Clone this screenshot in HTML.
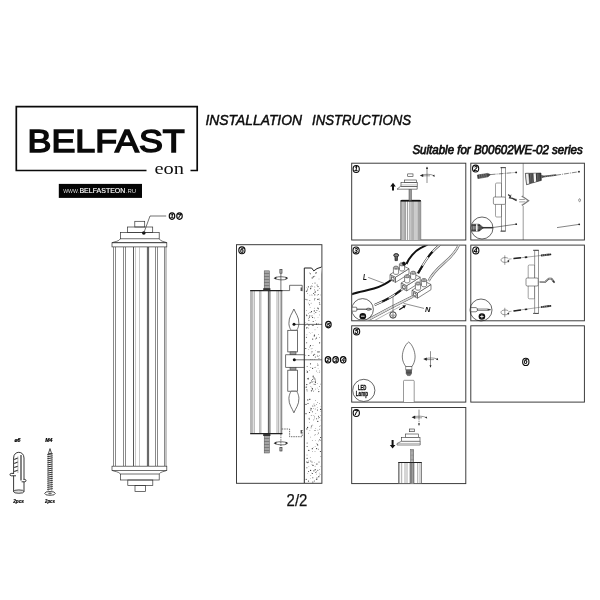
<!DOCTYPE html>
<html>
<head>
<meta charset="utf-8">
<title>Installation Instructions</title>
<style>
html,body{margin:0;padding:0;background:#fff;}
body{width:600px;height:600px;overflow:hidden;font-family:"Liberation Sans",sans-serif;}
svg{display:block;position:absolute;left:0;top:0;filter:grayscale(1) blur(0.35px);}
text{font-family:"Liberation Sans",sans-serif;fill:#111;}
.serif{font-family:"Liberation Serif",serif;}
.ln{fill:none;stroke:#333;stroke-width:0.7;}
.lg{fill:none;stroke:#777;stroke-width:0.6;}
.lk{fill:none;stroke:#111;stroke-width:1;}
.lw{fill:#fff;stroke:#333;stroke-width:0.7;}
.pn{fill:#fff;stroke:#333;stroke-width:0.95;}
.cn{fill:#fff;stroke:#0a0a0a;stroke-width:1.15;}
.cb{fill:#fff;stroke:#0a0a0a;stroke-width:1.1;}
.tb{font-size:6.6px;font-weight:bold;font-style:italic;text-anchor:middle;fill:#000;stroke:#000;stroke-width:0.1px;}
.ct{font-size:6.1px;font-weight:bold;font-style:italic;text-anchor:middle;fill:#000;stroke:#000;stroke-width:0.15px;}
</style>
</head>
<body>
<svg width="600" height="600" viewBox="0 0 600 600">
<rect x="0" y="0" width="600" height="600" fill="#ffffff"/>

<!-- ===== LOGO ===== -->
<g id="logo">
  <path d="M146.5,170.5 H16.3 V106.6 H197.2 V170.5 H190.5" fill="none" stroke="#0a0a0a" stroke-width="1.7"/>
  <text x="27.5" y="152.4" font-size="30.9" textLength="157.2" lengthAdjust="spacingAndGlyphs" style="fill:#0a0a0a;stroke:#0a0a0a;stroke-width:1.45">BELFAST</text>
  <text class="serif" x="154.5" y="173.8" font-size="17.4" textLength="29.6" lengthAdjust="spacingAndGlyphs" fill="#111">eon</text>
  <rect x="58.8" y="183.9" width="83.2" height="14" fill="#050505"/>
  <text x="63.2" y="193.3" font-size="5.6" textLength="15.8" lengthAdjust="spacingAndGlyphs" style="fill:#ddd">WWW.</text>
  <text x="79.4" y="193.3" font-size="7.3" textLength="46" lengthAdjust="spacingAndGlyphs" style="fill:#fff;stroke:#fff;stroke-width:0.15">BELFASTEON</text>
  <text x="125.8" y="193.3" font-size="5.6" textLength="10.4" lengthAdjust="spacingAndGlyphs" style="fill:#ddd">.RU</text>
</g>

<!-- ===== HEADINGS ===== -->
<text x="205.5" y="124.9" font-size="14.9" font-style="italic" stroke="#000" stroke-width="0.45" textLength="96.5" lengthAdjust="spacingAndGlyphs" fill="#000">INSTALLATION</text>
<text x="312" y="124.9" font-size="14.9" font-style="italic" stroke="#000" stroke-width="0.45" textLength="99" lengthAdjust="spacingAndGlyphs" fill="#000">INSTRUCTIONS</text>
<text x="412.4" y="154" font-size="12.2" font-style="italic" stroke="#111" stroke-width="0.75" textLength="170.4" lengthAdjust="spacingAndGlyphs" fill="#111">Suitable for B00602WE-02 series</text>

<!-- ===== PANEL FRAMES ===== -->
<g id="frames">
  <rect class="pn" x="236.5" y="244.7" width="85.4" height="238.6"/>
  <rect class="pn" x="351.7" y="163.2" width="114.1" height="76.8"/>
  <rect class="pn" x="470.8" y="163.2" width="113.6" height="76.8"/>
  <rect class="pn" x="351.7" y="245.1" width="114.1" height="75.7"/>
  <rect class="pn" x="470.8" y="245.1" width="113.6" height="75.7"/>
  <rect class="pn" x="351.7" y="325.8" width="114.1" height="76.3"/>
  <rect class="pn" x="470.8" y="325.8" width="113.6" height="76.3"/>
  <rect class="pn" x="351.7" y="407.5" width="114.1" height="76.1"/>
</g>

<!-- ===== MAIN LAMP ===== -->
<g id="mainlamp">
  <!-- top cap -->
  <rect class="ln" x="134.8" y="221.3" width="9.9" height="5.7"/>
  <rect class="ln" x="127.6" y="227" width="25.1" height="5.4"/>
  <rect class="ln" x="120.4" y="232.4" width="38.8" height="6.4"/>
  <path class="ln" d="M120.4,238.8 C119,241.5 114,241.8 112,242.7 H166.8 C165,241.8 160.5,241.5 159.2,238.8"/>
  <rect class="ln" x="112" y="242.7" width="54.8" height="4.2"/>
  <!-- body -->
  <path d="M113.5,247V466 M115.5,247V466 M123.5,247V466 M125.5,247V466 M155.5,247V466 M157.5,247V466 M164.5,247V466 M166,247V466" fill="none" stroke="#3a3a3a" stroke-width="0.6"/>
  <path d="M135.5,247V466 M139.5,247V466" fill="none" stroke="#999" stroke-width="0.55"/>
  <path d="M133.5,247V466 M147.4,247V466 M148.6,247V466" fill="none" stroke="#222" stroke-width="0.75"/>
  <!-- bottom cap -->
  <rect class="ln" x="112" y="466.2" width="54.8" height="4.2"/>
  <path class="ln" d="M112,470.4 C114,471.5 119,471.5 120.4,474 M166.8,470.4 C165,471.5 160.5,471.5 159.2,474"/>
  <rect class="ln" x="120.4" y="474" width="38.8" height="6"/>
  <rect class="ln" x="127.8" y="480" width="25" height="5.6"/>
  <rect class="ln" x="135" y="485.6" width="10.4" height="5.8"/>
  <!-- leader -->
  <circle cx="143.8" cy="233" r="1.8" fill="#111"/>
  <path class="ln" d="M143.8,233 L150,216 H166.2"/>
  <ellipse class="cn" cx="172" cy="216.1" rx="2.75" ry="3.2"/><text class="ct" x="171.9" y="218.3">1</text>
  <ellipse class="cn" cx="179.5" cy="216.1" rx="2.75" ry="3.2"/><text class="ct" x="179.4" y="218.3">7</text>
</g>

<!-- ===== HARDWARE ===== -->
<g id="hardware">
  <text x="14.4" y="441.8" font-size="5.2" font-weight="bold" font-style="italic" style="fill:#000;stroke:#000;stroke-width:0.2">&#248;6</text>
  <text x="45.2" y="442.2" font-size="5.2" font-weight="bold" font-style="italic" style="fill:#000;stroke:#000;stroke-width:0.2">M4</text>
  <!-- wall plug -->
  <path d="M13.6,492 V458 C13.6,450.4 24,450.4 24,458 V492" fill="none" stroke="#222" stroke-width="0.9"/>
  <path d="M21,455 V480.5" fill="none" stroke="#333" stroke-width="1.2"/>
  <path d="M14.2,459.4 L17.8,458 M14.2,463.4 L17.8,462 M14.2,467.6 L17.8,466.2 M14.2,471.6 L17.8,470.2" fill="none" stroke="#333" stroke-width="1.1"/>
  <path class="lg" d="M17.9,456.5 V473"/>
  <ellipse cx="18.8" cy="491.6" rx="5.2" ry="1.7" fill="#ddd" stroke="#222" stroke-width="0.8"/>
  <path d="M14,473.4 H11.2 C9.6,473.4 9.6,475.8 11.2,475.8 H16 M23.6,479.4 H24.8 C26.4,479.4 26.4,481.8 24.8,481.8 H21.6" fill="#fff" stroke="#222" stroke-width="0.9"/>
  <!-- screw -->
  <path d="M50,448.6 L48.4,453.6 H51.6 Z" fill="#fff" stroke="#222" stroke-width="0.8"/>
  <path d="M47.3,454.6 L52.7,453.7 M47.3,456.7 L52.7,455.8 M47.3,458.7 L52.7,457.8 M47.3,460.8 L52.7,459.9 M47.3,462.8 L52.7,461.9 M47.3,464.9 L52.7,464.0 M47.3,466.9 L52.7,466.0 M47.3,469.0 L52.7,468.1 M47.3,471.0 L52.7,470.1 M47.3,473.1 L52.7,472.2 M47.3,475.1 L52.7,474.2 M47.3,477.2 L52.7,476.3 M47.3,479.2 L52.7,478.3 M47.3,481.2 L52.7,480.4 M47.3,483.3 L52.7,482.4 M47.3,485.4 L52.7,484.5 M47.3,487.4 L52.7,486.5 M47.3,489.5 L52.7,488.6" stroke="#222" stroke-width="0.95" fill="none"/>
  <path d="M48.2,453.5 V491 M51.8,453.5 V491" fill="none" stroke="#555" stroke-width="0.5"/>
  <ellipse cx="50" cy="493.4" rx="5.3" ry="1.9" fill="#fff" stroke="#222" stroke-width="0.8"/>
  <path d="M48.2,493.4 H51.8 M50,492.2 V494.6" stroke="#222" stroke-width="0.6" fill="none"/>
  <text x="13.2" y="502.8" font-size="5.6" font-weight="bold" font-style="italic" textLength="10.8" lengthAdjust="spacingAndGlyphs" style="fill:#000;stroke:#000;stroke-width:0.2">2pcs</text>
  <text x="45" y="503.4" font-size="5.6" font-weight="bold" font-style="italic" textLength="10" lengthAdjust="spacingAndGlyphs" style="fill:#000;stroke:#000;stroke-width:0.2">2pcs</text>
</g>
<!-- ===== PANEL 6 ===== -->
<g id="p6">
  <ellipse class="cb" cx="241.9" cy="250.3" rx="3.1" ry="3.45"/><text class="tb" x="241.8" y="252.7">6</text>
  <!-- wall -->
  <path d="M304.3,483 V268 H311.6 L313.8,270.9 L317,268.6 L321.6,267" fill="#fff" stroke="#222" stroke-width="1"/>
  <g fill="#333"><circle cx="312.5" cy="388.9" r="0.5"/><circle cx="312.5" cy="451.3" r="0.35"/><circle cx="308.4" cy="378.8" r="0.6"/><circle cx="317.7" cy="290.4" r="0.4"/><circle cx="307.8" cy="384.4" r="0.3"/><circle cx="314.7" cy="354.3" r="0.5"/><circle cx="315.6" cy="400.7" r="0.35"/><circle cx="315.1" cy="446.4" r="0.3"/><circle cx="306.5" cy="310.7" r="0.35"/><circle cx="314.8" cy="435.1" r="0.4"/><circle cx="312.3" cy="448.7" r="0.6"/><circle cx="309.2" cy="332.7" r="0.3"/><circle cx="315.7" cy="367.2" r="0.4"/><circle cx="311.8" cy="387.1" r="0.3"/><circle cx="316.4" cy="337.2" r="0.35"/><circle cx="313.4" cy="276.8" r="0.6"/><circle cx="317.3" cy="355.2" r="0.4"/><circle cx="311.5" cy="473.1" r="0.3"/><circle cx="308.9" cy="466.6" r="0.3"/><circle cx="312.8" cy="477.8" r="0.5"/><circle cx="312.0" cy="390.3" r="0.35"/><circle cx="317.5" cy="327.6" r="0.3"/><circle cx="310.4" cy="273.7" r="0.5"/><circle cx="317.2" cy="295.5" r="0.35"/><circle cx="316.4" cy="272.8" r="0.5"/><circle cx="317.8" cy="308.1" r="0.6"/><circle cx="308.5" cy="378.1" r="0.35"/><circle cx="312.0" cy="351.7" r="0.5"/><circle cx="312.0" cy="315.5" r="0.4"/><circle cx="318.8" cy="476.7" r="0.6"/><circle cx="310.3" cy="457.6" r="0.35"/><circle cx="308.5" cy="481.1" r="0.6"/><circle cx="315.4" cy="291.7" r="0.35"/><circle cx="308.9" cy="325.1" r="0.6"/><circle cx="310.6" cy="333.2" r="0.3"/><circle cx="306.7" cy="314.6" r="0.35"/><circle cx="305.8" cy="348.5" r="0.6"/><circle cx="312.5" cy="473.4" r="0.5"/><circle cx="318.3" cy="299.2" r="0.5"/><circle cx="308.4" cy="303.1" r="0.35"/><circle cx="318.1" cy="323.3" r="0.35"/><circle cx="308.0" cy="403.5" r="0.6"/><circle cx="308.6" cy="471.5" r="0.5"/><circle cx="314.8" cy="359.6" r="0.3"/><circle cx="307.3" cy="378.9" r="0.4"/><circle cx="309.2" cy="419.5" r="0.4"/><circle cx="312.0" cy="461.9" r="0.5"/><circle cx="310.1" cy="307.6" r="0.3"/><circle cx="307.5" cy="371.9" r="0.6"/><circle cx="315.0" cy="329.8" r="0.35"/><circle cx="317.1" cy="285.1" r="0.5"/><circle cx="312.4" cy="283.3" r="0.35"/><circle cx="309.9" cy="382.8" r="0.35"/><circle cx="307.0" cy="299.8" r="0.5"/><circle cx="320.6" cy="409.4" r="0.6"/><circle cx="314.5" cy="300.2" r="0.3"/><circle cx="319.7" cy="370.9" r="0.4"/><circle cx="316.3" cy="474.1" r="0.3"/><circle cx="314.8" cy="286.3" r="0.3"/><circle cx="316.8" cy="337.9" r="0.3"/><circle cx="306.8" cy="386.0" r="0.3"/><circle cx="319.4" cy="426.4" r="0.35"/><circle cx="317.7" cy="464.0" r="0.4"/><circle cx="306.9" cy="370.6" r="0.3"/><circle cx="318.9" cy="358.7" r="0.3"/><circle cx="318.8" cy="391.6" r="0.6"/><circle cx="315.7" cy="350.7" r="0.3"/><circle cx="314.9" cy="287.5" r="0.3"/><circle cx="320.8" cy="456.6" r="0.4"/><circle cx="311.5" cy="426.0" r="0.6"/><circle cx="312.6" cy="368.3" r="0.6"/><circle cx="306.9" cy="429.2" r="0.3"/><circle cx="310.3" cy="289.1" r="0.3"/><circle cx="309.1" cy="418.2" r="0.5"/><circle cx="317.5" cy="410.1" r="0.5"/><circle cx="309.5" cy="272.9" r="0.4"/><circle cx="307.8" cy="399.9" r="0.6"/><circle cx="308.2" cy="462.1" r="0.5"/><circle cx="313.2" cy="321.6" r="0.5"/><circle cx="315.8" cy="312.5" r="0.5"/><circle cx="317.9" cy="430.1" r="0.35"/><circle cx="319.1" cy="351.8" r="0.6"/><circle cx="319.7" cy="314.9" r="0.35"/><circle cx="313.2" cy="447.5" r="0.3"/><circle cx="316.5" cy="471.4" r="0.4"/><circle cx="318.2" cy="294.4" r="0.5"/><circle cx="309.8" cy="315.8" r="0.5"/><circle cx="311.5" cy="380.5" r="0.4"/><circle cx="316.6" cy="448.6" r="0.6"/><circle cx="312.5" cy="286.3" r="0.3"/><circle cx="309.9" cy="399.0" r="0.4"/><circle cx="314.3" cy="335.9" r="0.6"/><circle cx="305.9" cy="299.2" r="0.5"/><circle cx="308.5" cy="433.2" r="0.4"/><circle cx="309.2" cy="300.3" r="0.3"/><circle cx="320.7" cy="294.9" r="0.3"/><circle cx="315.2" cy="409.0" r="0.4"/><circle cx="320.3" cy="415.3" r="0.35"/><circle cx="318.2" cy="324.7" r="0.3"/><circle cx="317.2" cy="383.6" r="0.3"/><circle cx="308.3" cy="328.1" r="0.4"/><circle cx="313.9" cy="470.8" r="0.6"/><circle cx="315.0" cy="430.4" r="0.5"/><circle cx="318.6" cy="418.5" r="0.35"/><circle cx="306.9" cy="467.7" r="0.5"/><circle cx="307.6" cy="366.4" r="0.3"/><circle cx="311.4" cy="390.8" r="0.6"/><circle cx="317.8" cy="470.2" r="0.5"/><circle cx="310.6" cy="478.3" r="0.3"/><circle cx="316.6" cy="443.6" r="0.3"/><circle cx="308.9" cy="460.8" r="0.3"/><circle cx="320.6" cy="384.1" r="0.4"/><circle cx="309.6" cy="422.4" r="0.3"/><circle cx="310.9" cy="288.0" r="0.5"/><circle cx="310.8" cy="359.6" r="0.4"/><circle cx="313.1" cy="276.5" r="0.3"/><circle cx="312.2" cy="277.9" r="0.6"/><circle cx="310.7" cy="437.1" r="0.35"/><circle cx="312.8" cy="482.0" r="0.6"/><circle cx="318.5" cy="416.3" r="0.5"/><circle cx="314.5" cy="416.2" r="0.35"/><circle cx="312.3" cy="388.7" r="0.6"/><circle cx="315.4" cy="381.1" r="0.6"/><circle cx="309.5" cy="412.5" r="0.6"/><circle cx="308.8" cy="450.4" r="0.6"/><circle cx="313.6" cy="391.7" r="0.35"/><circle cx="311.9" cy="294.7" r="0.3"/><circle cx="314.9" cy="276.4" r="0.3"/><circle cx="313.5" cy="355.2" r="0.6"/><circle cx="307.5" cy="290.2" r="0.35"/><circle cx="306.6" cy="384.4" r="0.5"/><circle cx="319.7" cy="439.8" r="0.5"/><circle cx="309.7" cy="370.6" r="0.35"/><circle cx="310.8" cy="461.0" r="0.5"/><circle cx="313.6" cy="293.5" r="0.5"/><circle cx="315.1" cy="466.2" r="0.35"/><circle cx="316.3" cy="477.2" r="0.3"/><circle cx="308.6" cy="318.6" r="0.4"/><circle cx="310.5" cy="345.7" r="0.6"/><circle cx="313.2" cy="376.2" r="0.6"/><circle cx="307.5" cy="378.5" r="0.4"/><circle cx="316.6" cy="418.8" r="0.5"/><circle cx="306.0" cy="404.4" r="0.6"/><circle cx="315.0" cy="384.3" r="0.6"/><circle cx="315.4" cy="382.5" r="0.6"/><circle cx="315.0" cy="451.7" r="0.35"/><circle cx="319.6" cy="403.3" r="0.4"/><circle cx="319.4" cy="337.3" r="0.4"/><circle cx="319.2" cy="311.7" r="0.35"/><circle cx="319.2" cy="298.8" r="0.35"/><circle cx="307.6" cy="289.1" r="0.5"/><circle cx="307.1" cy="446.5" r="0.5"/><circle cx="313.9" cy="419.6" r="0.35"/><circle cx="311.8" cy="415.4" r="0.3"/><circle cx="307.1" cy="391.0" r="0.4"/><circle cx="319.5" cy="475.3" r="0.3"/><circle cx="316.4" cy="404.7" r="0.4"/><circle cx="313.3" cy="415.5" r="0.35"/><circle cx="317.9" cy="372.5" r="0.3"/><circle cx="306.2" cy="387.2" r="0.6"/><circle cx="319.4" cy="372.3" r="0.35"/><circle cx="308.4" cy="313.6" r="0.35"/><circle cx="320.8" cy="466.5" r="0.3"/><circle cx="314.5" cy="298.9" r="0.5"/><circle cx="306.8" cy="291.0" r="0.5"/><circle cx="312.7" cy="379.5" r="0.5"/><circle cx="308.8" cy="349.4" r="0.3"/><circle cx="318.5" cy="308.8" r="0.5"/><circle cx="311.1" cy="348.8" r="0.35"/><circle cx="314.9" cy="290.6" r="0.3"/><circle cx="310.6" cy="288.4" r="0.5"/><circle cx="314.3" cy="310.9" r="0.6"/><circle cx="320.6" cy="440.7" r="0.4"/><circle cx="309.9" cy="295.1" r="0.35"/><circle cx="318.1" cy="356.3" r="0.4"/><circle cx="319.1" cy="417.4" r="0.5"/><circle cx="317.3" cy="356.3" r="0.35"/><circle cx="306.7" cy="342.8" r="0.5"/><circle cx="307.1" cy="458.3" r="0.6"/><circle cx="306.4" cy="328.2" r="0.4"/><circle cx="310.8" cy="410.0" r="0.6"/><circle cx="308.4" cy="286.8" r="0.6"/><circle cx="320.9" cy="406.3" r="0.3"/><circle cx="317.3" cy="477.8" r="0.3"/><circle cx="307.4" cy="293.4" r="0.35"/><circle cx="309.5" cy="355.4" r="0.3"/><circle cx="317.2" cy="407.6" r="0.3"/><circle cx="307.1" cy="323.6" r="0.4"/><circle cx="314.0" cy="377.9" r="0.6"/><circle cx="314.3" cy="481.0" r="0.5"/><circle cx="318.0" cy="286.6" r="0.6"/><circle cx="315.8" cy="472.6" r="0.5"/><circle cx="319.8" cy="304.3" r="0.5"/><circle cx="320.4" cy="451.5" r="0.6"/><circle cx="315.0" cy="282.9" r="0.5"/><circle cx="312.0" cy="381.9" r="0.6"/><circle cx="310.4" cy="382.7" r="0.5"/><circle cx="315.6" cy="389.1" r="0.4"/><circle cx="315.8" cy="428.6" r="0.3"/><circle cx="305.8" cy="322.3" r="0.3"/><circle cx="315.3" cy="357.0" r="0.5"/><circle cx="306.4" cy="337.2" r="0.5"/><circle cx="306.4" cy="479.6" r="0.4"/><circle cx="306.7" cy="462.0" r="0.5"/><circle cx="316.6" cy="323.6" r="0.35"/><circle cx="306.3" cy="291.3" r="0.5"/><circle cx="307.8" cy="473.5" r="0.35"/><circle cx="314.8" cy="294.8" r="0.6"/><circle cx="312.0" cy="295.4" r="0.3"/><circle cx="311.1" cy="303.2" r="0.4"/><circle cx="312.4" cy="411.8" r="0.5"/><circle cx="314.8" cy="405.8" r="0.5"/><circle cx="311.2" cy="427.8" r="0.35"/><circle cx="320.2" cy="425.8" r="0.35"/><circle cx="313.0" cy="376.9" r="0.4"/><circle cx="317.6" cy="402.7" r="0.4"/><circle cx="309.8" cy="399.5" r="0.6"/><circle cx="316.3" cy="310.7" r="0.4"/><circle cx="317.1" cy="310.6" r="0.35"/><circle cx="313.3" cy="408.6" r="0.35"/><circle cx="319.0" cy="278.9" r="0.3"/><circle cx="305.7" cy="325.4" r="0.3"/><circle cx="315.1" cy="292.2" r="0.6"/><circle cx="309.9" cy="430.3" r="0.35"/><circle cx="314.0" cy="404.0" r="0.4"/><circle cx="313.0" cy="345.4" r="0.4"/><circle cx="310.9" cy="428.0" r="0.3"/><circle cx="317.9" cy="365.1" r="0.6"/><circle cx="318.4" cy="433.1" r="0.5"/><circle cx="312.1" cy="325.1" r="0.35"/><circle cx="311.2" cy="408.7" r="0.6"/><circle cx="310.6" cy="386.5" r="0.35"/><circle cx="312.1" cy="348.6" r="0.3"/><circle cx="312.7" cy="339.1" r="0.6"/><circle cx="306.9" cy="389.8" r="0.5"/><circle cx="318.1" cy="368.5" r="0.3"/><circle cx="306.8" cy="315.6" r="0.6"/><circle cx="306.9" cy="334.8" r="0.4"/><circle cx="309.9" cy="300.7" r="0.4"/><circle cx="315.7" cy="339.7" r="0.3"/><circle cx="310.5" cy="363.8" r="0.6"/><circle cx="319.7" cy="469.3" r="0.4"/><circle cx="312.3" cy="440.3" r="0.4"/><circle cx="312.6" cy="317.3" r="0.6"/><circle cx="309.4" cy="347.0" r="0.4"/><circle cx="306.0" cy="413.7" r="0.6"/><circle cx="311.5" cy="311.7" r="0.6"/><circle cx="311.2" cy="353.0" r="0.35"/><circle cx="318.4" cy="389.5" r="0.35"/><circle cx="307.0" cy="366.6" r="0.4"/><circle cx="318.0" cy="317.3" r="0.3"/><circle cx="313.9" cy="390.5" r="0.3"/><circle cx="315.6" cy="440.6" r="0.3"/><circle cx="314.5" cy="335.1" r="0.6"/><circle cx="306.9" cy="287.8" r="0.3"/><circle cx="319.4" cy="288.4" r="0.35"/><circle cx="307.1" cy="443.1" r="0.5"/><circle cx="309.4" cy="317.1" r="0.6"/><circle cx="310.8" cy="367.6" r="0.4"/><circle cx="310.8" cy="475.3" r="0.35"/><circle cx="313.2" cy="384.1" r="0.3"/><circle cx="316.4" cy="464.0" r="0.5"/><circle cx="317.2" cy="479.0" r="0.4"/><circle cx="318.7" cy="440.9" r="0.3"/><circle cx="319.2" cy="473.1" r="0.3"/><circle cx="313.6" cy="420.7" r="0.3"/><circle cx="312.1" cy="359.4" r="0.35"/><circle cx="309.4" cy="304.8" r="0.5"/><circle cx="316.1" cy="338.4" r="0.5"/><circle cx="312.1" cy="332.3" r="0.3"/><circle cx="312.8" cy="425.1" r="0.4"/><circle cx="315.5" cy="434.6" r="0.35"/><circle cx="319.6" cy="429.8" r="0.3"/><circle cx="314.5" cy="462.8" r="0.3"/><circle cx="310.4" cy="312.3" r="0.4"/><circle cx="308.9" cy="320.3" r="0.5"/><circle cx="314.7" cy="317.9" r="0.35"/><circle cx="319.3" cy="355.6" r="0.4"/><circle cx="315.2" cy="469.7" r="0.6"/><circle cx="312.9" cy="325.6" r="0.5"/><circle cx="319.6" cy="342.8" r="0.6"/><circle cx="317.4" cy="290.0" r="0.35"/><circle cx="311.7" cy="316.5" r="0.35"/><circle cx="317.9" cy="351.9" r="0.6"/><circle cx="317.8" cy="434.2" r="0.3"/><circle cx="315.7" cy="320.8" r="0.3"/><circle cx="319.0" cy="462.0" r="0.5"/><circle cx="317.8" cy="421.4" r="0.6"/><circle cx="319.0" cy="358.4" r="0.4"/><circle cx="307.8" cy="462.6" r="0.6"/><circle cx="307.6" cy="427.4" r="0.6"/><circle cx="309.7" cy="383.6" r="0.35"/><circle cx="314.3" cy="308.2" r="0.35"/><circle cx="318.2" cy="449.5" r="0.35"/><circle cx="306.9" cy="327.6" r="0.6"/><circle cx="307.1" cy="372.0" r="0.5"/><circle cx="306.9" cy="428.8" r="0.6"/><circle cx="318.7" cy="334.7" r="0.35"/><circle cx="312.0" cy="464.4" r="0.3"/><circle cx="317.6" cy="363.6" r="0.3"/><circle cx="313.9" cy="381.7" r="0.35"/><circle cx="320.1" cy="474.4" r="0.4"/><circle cx="310.4" cy="286.6" r="0.4"/><circle cx="320.9" cy="411.6" r="0.3"/><circle cx="311.1" cy="415.8" r="0.3"/><circle cx="315.8" cy="413.4" r="0.3"/><circle cx="315.6" cy="273.1" r="0.5"/><circle cx="316.5" cy="371.0" r="0.4"/><circle cx="314.2" cy="367.4" r="0.3"/><circle cx="318.7" cy="449.1" r="0.35"/><circle cx="319.4" cy="302.7" r="0.5"/><circle cx="319.9" cy="429.1" r="0.4"/><circle cx="317.2" cy="388.0" r="0.3"/><circle cx="309.5" cy="312.8" r="0.3"/><circle cx="310.6" cy="470.4" r="0.6"/><circle cx="312.8" cy="405.9" r="0.5"/><circle cx="318.3" cy="290.0" r="0.35"/><circle cx="315.1" cy="298.3" r="0.35"/><circle cx="308.4" cy="355.6" r="0.5"/><circle cx="314.7" cy="289.6" r="0.35"/><circle cx="306.1" cy="479.3" r="0.5"/><circle cx="311.8" cy="285.9" r="0.5"/><circle cx="319.8" cy="299.9" r="0.35"/><circle cx="317.3" cy="444.2" r="0.5"/><circle cx="313.0" cy="465.4" r="0.6"/><circle cx="305.8" cy="355.2" r="0.4"/><circle cx="320.6" cy="437.5" r="0.6"/><circle cx="313.7" cy="325.6" r="0.35"/><circle cx="310.8" cy="408.1" r="0.3"/><circle cx="314.1" cy="313.8" r="0.4"/><circle cx="317.7" cy="445.0" r="0.6"/><circle cx="316.5" cy="324.2" r="0.6"/><circle cx="319.4" cy="386.5" r="0.4"/><circle cx="315.0" cy="379.1" r="0.6"/><circle cx="316.5" cy="479.2" r="0.6"/><circle cx="320.9" cy="420.0" r="0.35"/><circle cx="314.3" cy="276.1" r="0.35"/><circle cx="317.5" cy="299.3" r="0.5"/><circle cx="314.4" cy="417.9" r="0.4"/><circle cx="307.0" cy="455.0" r="0.4"/></g>
  <!-- backplate -->
  
  <!-- body -->
  <rect x="251" y="290.6" width="30.8" height="142.8" fill="#fff" stroke="#333" stroke-width="0.7"/>
  <path class="lg" d="M252.7,291V433 M254.3,291V433 M259.7,291V433 M260.9,291V433 M277,291V433 M278.6,291V433 M280.3,291V433"/>
  <path d="M268.4,291V433 M269.9,291V433" fill="none" stroke="#222" stroke-width="0.8"/>
  <path d="M250.2,290.6 H282.4 M250.2,433.6 H282.4" fill="none" stroke="#222" stroke-width="1.15"/>
  <!-- threaded rods -->
  <rect x="264.2" y="270.8" width="5.2" height="19.2" fill="#ccc" stroke="#555" stroke-width="0.5"/>
  <path d="M264.2,272.0H269.4 M264.2,273.5H269.4 M264.2,275.0H269.4 M264.2,276.5H269.4 M264.2,278.0H269.4 M264.2,279.5H269.4 M264.2,281.0H269.4 M264.2,282.5H269.4 M264.2,284.0H269.4 M264.2,285.5H269.4 M264.2,287.0H269.4 M264.2,288.5H269.4" stroke="#444" stroke-width="0.6" fill="none"/>
  <rect x="264.2" y="434.4" width="5.2" height="18.6" fill="#ccc" stroke="#555" stroke-width="0.5"/>
  <path d="M264.2,435.5H269.4 M264.2,437.0H269.4 M264.2,438.5H269.4 M264.2,440.0H269.4 M264.2,441.5H269.4 M264.2,443.0H269.4 M264.2,444.5H269.4 M264.2,446.0H269.4 M264.2,447.5H269.4 M264.2,449.0H269.4 M264.2,450.5H269.4 M264.2,452.0H269.4" stroke="#444" stroke-width="0.6" fill="none"/>
  <rect x="263.2" y="288.2" width="7.2" height="2" fill="#333"/>
  <rect x="263.2" y="434" width="7.2" height="2" fill="#333"/>
  <!-- rotation symbols -->
  <rect x="279.9" y="269.6" width="2.1" height="3.6" fill="#bbb" stroke="#222" stroke-width="0.6"/>
  <path class="ln" d="M280.9,273.4 V290"/>
  <path class="ln" d="M276,277.4 C278,276.4 284.5,276.4 287.6,278 M275.2,278.6 C278,280.2 284,280.2 286.6,279.2" stroke-width="0.6"/>
  <path d="M273.6,278.2 L276.4,276.6 L276.2,279.4 Z M288,278.2 L285.8,276.8 L285.6,279.2Z" fill="#222"/>
  <rect x="279.9" y="447.4" width="2.1" height="3.6" fill="#bbb" stroke="#222" stroke-width="0.6"/>
  <path class="ln" d="M280.9,434 V447" stroke-dasharray="1.6 1"/>
  <path class="ln" d="M276,442.4 C278,441.4 284.5,441.4 287.6,443 M275.2,443.6 C278,445.2 284,445.2 286.6,444.2" stroke-width="0.6"/>
  <path d="M273.6,443.2 L276.4,441.6 L276.2,444.4 Z M288,443.2 L285.8,441.8 L285.6,444.2Z" fill="#222"/>
  <!-- brackets -->
  <path class="ln" d="M281.8,290.6 H289.6 V285.3 H302.2 V291.2"/>
  <path d="M300.6,287.6 H302 V291 H300.6Z" fill="#555"/>
  <path class="ln" d="M281.8,429 H289.6 V436.7 H302.2 V430" stroke-dasharray="1.5 0.9"/>
  <path d="M300.6,430 H302 V433.4 H300.6Z" fill="#555"/>
  <!-- upper bulb -->
  <path class="lw" d="M293.9,309 C292.5,313 288.6,317 288.9,323.5 C289.1,327.5 291,330.3 291.4,330.3 H296.4 C296.8,330.3 298.7,327.5 298.9,323.5 C299.2,317 295.3,313 293.9,309 Z"/>
  <rect class="lw" x="287.8" y="330.3" width="9.8" height="21.6"/>
  <rect x="290" y="351.9" width="6" height="2.9" fill="#999" stroke="#333" stroke-width="0.5"/>
  <!-- center block -->
  <rect class="lw" x="285.7" y="354.8" width="18.4" height="12.5"/>
  <!-- lower bulb -->
  <rect x="290" y="367.3" width="6" height="2.9" fill="#999" stroke="#333" stroke-width="0.5"/>
  <rect class="lw" x="287.8" y="370.2" width="9.8" height="21"/>
  <path class="lw" d="M293.9,412.8 C292.5,408.8 288.6,404.8 288.9,398.3 C289.1,394.3 291,391.2 291.4,391.2 H296.4 C296.8,391.2 298.7,394.3 298.9,398.3 C299.2,404.8 295.3,408.8 293.9,412.8 Z"/>
  <!-- leaders -->
  <path class="ln" d="M294,324.4 H322 M294.3,359.8 H322"/>
  <circle cx="294" cy="324.3" r="1.5" fill="#111"/>
  <circle cx="294.3" cy="359.8" r="1.5" fill="#111"/>
  <ellipse class="cn" cx="328.4" cy="324.6" rx="2.75" ry="3.2"/><text class="ct" x="328.4" y="326.8">5</text>
  <ellipse class="cn" cx="328" cy="359.8" rx="2.75" ry="3.2"/><text class="ct" x="328" y="362">2</text>
  <ellipse class="cn" cx="335.6" cy="359.8" rx="2.75" ry="3.2"/><text class="ct" x="335.6" y="362">3</text>
  <ellipse class="cn" cx="343.2" cy="359.8" rx="2.75" ry="3.2"/><text class="ct" x="343.2" y="362">4</text>
</g>
<!-- ===== PANEL 1 ===== -->
<g id="p1">
  <ellipse class="cb" cx="356.2" cy="168.9" rx="3.1" ry="3.45"/><text class="tb" x="356.1" y="171.3">1</text>
  <!-- body -->
  <path d="M400.7,240 V201.4 C400.7,200.6 401.2,200.2 402,200.2 H419.4 C420.2,200.2 420.7,200.6 420.7,201.4 V240" fill="#fff" stroke="#333" stroke-width="0.6"/>
  <path d="M401.7,201V240 M403,201V240 M404.3,201V240 M405.6,201V240 M407.6,201V240 M409.8,201V240 M411.2,201V240 M415,201V240 M417,201V240 M418.4,201V240 M419.6,201V240" stroke="#444" stroke-width="0.55" fill="none"/>
  <path d="M413,201V240" stroke="#222" stroke-width="0.7" fill="none"/>
  <path d="M400.6,200.8 H420.8" stroke="#111" stroke-width="1.6" fill="none"/>
  <!-- rod -->
  <rect x="409" y="189.4" width="2.4" height="11" fill="#999" stroke="#444" stroke-width="0.5"/>
  <!-- cap -->
  <path d="M397,189.2 L400.6,186.3 H417.2 V189.2 Z" fill="#fff" stroke="#333" stroke-width="0.6"/>
  <rect x="401" y="182.3" width="16.2" height="4" fill="#fff" stroke="#333" stroke-width="0.6"/>
  <path d="M401,184.9 H417.2" stroke="#888" stroke-width="0.5" fill="none"/>
  <rect x="404.3" y="180" width="12" height="2.3" fill="#fff" stroke="#333" stroke-width="0.6"/>
  <!-- nut -->
  <rect x="407.7" y="173.9" width="5.3" height="2.4" fill="#fff" stroke="#333" stroke-width="0.6"/>
  <!-- arrow up -->
  <path d="M393,182.8 L395.8,186.4 H394 V190.4 H392 V186.4 H390.2 Z" fill="#111"/>
  <path d="M427,167.0 V183.0" fill="none" stroke="#444" stroke-width="0.6"/>
  <path d="M422,175.20000000000002 C425,173.9 431,173.9 434.2,175.8 M422,175.8 H430" fill="none" stroke="#444" stroke-width="0.55"/>
  <path d="M419.8,175.5 L423.2,173.9 L423.2,177.1Z M434.8,176.8 L432.6,176.0 L434.2,174.6Z" fill="#222"/>
  <path d="M427,166.4 L426,169 H428Z" fill="#222"/>
</g>

<!-- ===== PANEL 2 ===== -->
<g id="p2">
  <ellipse class="cb" cx="475.6" cy="168.6" rx="3.1" ry="3.45"/><text class="tb" x="475.5" y="171.0">2</text>
  <path d="M523.2,163.4 V196 M523.2,206 V240" stroke="#333" stroke-width="0.5" fill="none"/>
  <!-- plate + sockets -->
  <rect x="495.5" y="183" width="6.2" height="34" rx="1.2" fill="#fff" stroke="#555" stroke-width="0.55"/>
  
  <rect x="501.7" y="167.6" width="3.8" height="63.4" fill="#fff" stroke="#444" stroke-width="0.55"/>
  <path d="M500.4,167.7 H505.7 M500.4,231.2 H505.7" stroke="#333" stroke-width="0.8" fill="none"/>
  <rect x="493.4" y="197" width="12.1" height="7.4" rx="1.2" fill="#fff" stroke="#444" stroke-width="0.6"/>
  <!-- top-left wall plug -->
  <path d="M477.4,175 L487.6,173.4 L490.6,174.6 L488,176.8 L477.9,178.6 Z" fill="#444" stroke="#222" stroke-width="0.5"/>
  <path d="M479.5,174.8 L480,178.2 M481.6,174.4 L482.1,177.8 M483.7,174.1 L484.2,177.5 M485.8,173.8 L486.3,177.1" stroke="#bbb" stroke-width="0.45" fill="none"/>
  <path d="M490.6,174.6 L516,172.4" stroke="#333" stroke-width="0.6" stroke-dasharray="5 1 1 1" fill="none"/>
  <circle cx="516.2" cy="172.4" r="0.9" fill="#222"/>
  <!-- wire squiggle -->
  <path d="M508.2,194.6 L510.4,196.6 L509.6,197.8 L512.6,198.4 L516.6,200.6" stroke="#333" stroke-width="1.3" fill="none"/>
  <path d="M509,196 L511.5,195 M513.6,199 L516.8,199.4" stroke="#333" stroke-width="0.7" fill="none"/>
  <!-- outlined arrow -->
  <path d="M519.2,199.5 H525 M519.2,201.9 H525" stroke="#777" stroke-width="0.7" fill="none"/>
  <path d="M521.8,196.2 L528.4,200.7 L521.8,205.3" stroke="#777" stroke-width="1.5" fill="none" stroke-linejoin="miter"/>
  <path d="M522.2,197.2 L527.2,200.7 L522.2,204.3" stroke="#fff" stroke-width="0.5" fill="none"/>
  <!-- detail circle with drill -->
  <circle cx="482" cy="228" r="11" fill="none" stroke="#222" stroke-width="0.7"/>
  <path d="M472.4,224.2 H479 L481.4,225.8 V229.6 L479,231.2 H472.4 Z" fill="#555" stroke="#222" stroke-width="0.5"/>
  <path d="M473.6,224.4V231 M475,224.4V231 M476.4,224.4V231 M477.8,224.4V231" stroke="#ddd" stroke-width="0.5" fill="none"/>
  <path d="M472.4,225.2 H480 M472.4,230.2 H480" stroke="#111" stroke-width="0.8" fill="none"/>
  <rect x="476" y="224.2" width="1.5" height="7" fill="#eee"/>
  <path d="M481.4,226 L483.4,227 V228.6 L481.4,229.4Z" fill="#555"/>
  <path d="M481.4,227.7 H493" stroke="#333" stroke-width="1.5" fill="none"/>
  <path d="M493,227.5 L516,224.2" stroke="#333" stroke-width="0.6" fill="none"/>
  <circle cx="516.2" cy="224.2" r="0.9" fill="#222"/>
  <!-- right: drill chuck -->
  <path d="M525.4,173.4 L541,173 L541.4,180.4 L526.6,184.6 Z" fill="#3a3a3a" stroke="#222" stroke-width="0.5"/>
  <path d="M525.4,173.4 L528.7,173.3 L529.6,183.8 L526.6,184.6 Z" fill="#eee" stroke="#333" stroke-width="0.5"/>
  <path d="M533.4,173.4 L535.8,173.3 L536.2,181.6 L533.9,182.3 Z" fill="#f4f4f4"/>
  <path d="M530.4,174 L531,183 M531.8,174 L532.4,182.6 M537.4,173.8 L537.8,181 M538.8,173.8 L539.2,180.6" stroke="#999" stroke-width="0.45" fill="none"/>
  <path d="M541,175 L543.4,175.6 L543.4,177.6 L541.3,178.6 Z" fill="#555"/>
  <path d="M543,176.6 L556.2,175" stroke="#444" stroke-width="1.7" fill="none"/>
  <path d="M545,175.6 l0.6,1.8 M547,175.4 l0.6,1.8 M549,175.1 l0.6,1.8 M551,174.9 l0.6,1.8 M553,174.6 l0.6,1.8" stroke="#ccc" stroke-width="0.4" fill="none"/>
  <path d="M556,175.2 L578.6,171.8" stroke="#333" stroke-width="0.6" stroke-dasharray="5 1 1 1" fill="none"/>
  <circle cx="579" cy="171.7" r="0.9" fill="#222"/>
  <ellipse cx="579.6" cy="200.2" rx="0.9" ry="1.5" fill="#fff" stroke="#333" stroke-width="0.5"/>
  <path d="M557,227.6 L579,224.4" stroke="#333" stroke-width="0.6" fill="none"/>
  <circle cx="579.2" cy="224.3" r="0.9" fill="#222"/>
</g>
<!-- ===== PANEL 3 ===== -->
<g id="p3">
  <clipPath id="c3"><rect x="352.2" y="245.6" width="113.1" height="74.7"/></clipPath>
  <g clip-path="url(#c3)">
  <!-- upper wires (behind blocks) -->
  <path d="M406.4,264 C409,258 415,251 420,248.4 C422.5,247 425,245.8 427.5,244.6" stroke="#111" stroke-width="2" fill="none"/>
  <path d="M418,273.4 C421,268 427,258 431,253.4 C434,250 437,247.2 440,244.6" stroke="#333" stroke-width="2.2" fill="none"/>
  <path d="M418,273.4 C421,268 427,258 431,253.4 C434,250 437,247.2 440,244.6" stroke="#fff" stroke-width="1.1" fill="none"/>
  <path d="M418,273.4 C421,268 427,258 431,253.4 C434,250 437,247.2 440,244.6" stroke="#111" stroke-width="1.9" fill="none" stroke-dasharray="9 10 7 100"/>
  <path d="M428.6,281 C431,276 436,270 444,263 C451,257 456,252 459,244.6" stroke="#555" stroke-width="2.4" fill="none"/>
  <path d="M428.6,281 C431,276 436,270 444,263 C451,257 456,252 459,244.6" stroke="#fff" stroke-width="1.3" fill="none"/>
  <path d="M428.6,281 C431,276 436,270 444,263 C451,257 456,252 459,244.6" stroke="#888" stroke-width="0.4" fill="none"/>
  <!-- lower wires -->
  <path d="M351,294.6 C358,291.6 366,291 374,288.6 C381,286.4 388,282.6 392.4,279" stroke="#111" stroke-width="2.1" fill="none"/>
  <path d="M374.6,305 C382,302 394,296 402,289.4" stroke="#333" stroke-width="2.2" fill="none"/>
  <path d="M374.6,305 C382,302 394,296 402,289.4" stroke="#fff" stroke-width="1.1" fill="none"/>
  <path d="M374.6,305 C382,302 394,296 402,289.4" stroke="#111" stroke-width="1.7" fill="none" stroke-dasharray="0 8.5 7 7.5 7 100"/>
  <path d="M364,322 L392,307 L413,296.4" stroke="#555" stroke-width="2.6" fill="none"/>
  <path d="M364,322 L392,307 L413,296.4" stroke="#fff" stroke-width="1.5" fill="none"/>
  <path d="M364,322 L392,307 L413,296.4" stroke="#888" stroke-width="0.4" fill="none"/>
  <path d="M370,323 L400,306.6" stroke="#666" stroke-width="0.5" fill="none"/>
  <!-- blocks back-to-front -->
  <polygon points="395.5,277.2 409.0,268.7 409.0,273.9 395.5,282.4" class="lw" style="stroke-width:0.6"/>
  <polygon points="390.0,274.5 395.5,277.2 395.5,282.4 390.0,279.7" class="lw" style="stroke-width:0.6"/>
  <polygon points="390.0,274.5 395.5,277.2 409.0,268.7 403.5,266.0" class="lw" style="stroke-width:0.6"/>
  <polygon points="391.4,276.7 394.1,277.9 394.1,280.7 391.4,279.5" fill="#fff" stroke="#222" stroke-width="0.7"/>
  <path d="M399.4,264.3 V269.5 C399.4,271.5 404.6,271.5 404.6,269.5 V264.3" class="lw" style="stroke-width:0.6"/>
  <ellipse cx="402.0" cy="264.3" rx="2.6" ry="1.6" class="lw" style="stroke-width:0.6"/>
  <ellipse cx="402.0" cy="264.3" rx="1.5" ry="0.9" fill="#ddd" stroke="#333" stroke-width="0.5"/>
  <path d="M393.4,267.7 V272.9 C393.4,274.9 398.6,274.9 398.6,272.9 V267.7" class="lw" style="stroke-width:0.6"/>
  <ellipse cx="396.0" cy="267.7" rx="2.6" ry="1.6" class="lw" style="stroke-width:0.6"/>
  <ellipse cx="396.0" cy="267.7" rx="1.5" ry="0.9" fill="#ddd" stroke="#333" stroke-width="0.5"/>
  <path d="M402,262.8 l1.8,-1.4 l1.6,1 l0.6,2 l-1.4,1.4 l-2,-0.6 z" fill="#111"/>
  <polygon points="406.7,285.7 420.2,277.2 420.2,282.4 406.7,290.9" class="lw" style="stroke-width:0.6"/>
  <polygon points="401.2,283.0 406.7,285.7 406.7,290.9 401.2,288.2" class="lw" style="stroke-width:0.6"/>
  <polygon points="401.2,283.0 406.7,285.7 420.2,277.2 414.7,274.5" class="lw" style="stroke-width:0.6"/>
  <polygon points="402.6,285.2 405.2,286.4 405.2,289.2 402.6,288.0" fill="#fff" stroke="#222" stroke-width="0.7"/>
  <path d="M410.6,272.8 V278.0 C410.6,280.0 415.8,280.0 415.8,278.0 V272.8" class="lw" style="stroke-width:0.6"/>
  <ellipse cx="413.2" cy="272.8" rx="2.6" ry="1.6" class="lw" style="stroke-width:0.6"/>
  <ellipse cx="413.2" cy="272.8" rx="1.5" ry="0.9" fill="#ddd" stroke="#333" stroke-width="0.5"/>
  <path d="M404.6,276.2 V281.4 C404.6,283.4 409.8,283.4 409.8,281.4 V276.2" class="lw" style="stroke-width:0.6"/>
  <ellipse cx="407.2" cy="276.2" rx="2.6" ry="1.6" class="lw" style="stroke-width:0.6"/>
  <ellipse cx="407.2" cy="276.2" rx="1.5" ry="0.9" fill="#ddd" stroke="#333" stroke-width="0.5"/>
  <polygon points="417.5,293.0 431.0,284.5 431.0,289.7 417.5,298.2" class="lw" style="stroke-width:0.6"/>
  <polygon points="412.0,290.3 417.5,293.0 417.5,298.2 412.0,295.5" class="lw" style="stroke-width:0.6"/>
  <polygon points="412.0,290.3 417.5,293.0 431.0,284.5 425.5,281.8" class="lw" style="stroke-width:0.6"/>
  <polygon points="413.4,292.5 416.1,293.7 416.1,296.5 413.4,295.3" fill="#fff" stroke="#222" stroke-width="0.7"/>
  <path d="M421.4,280.1 V285.3 C421.4,287.3 426.6,287.3 426.6,285.3 V280.1" class="lw" style="stroke-width:0.6"/>
  <ellipse cx="424.0" cy="280.1" rx="2.6" ry="1.6" class="lw" style="stroke-width:0.6"/>
  <ellipse cx="424.0" cy="280.1" rx="1.5" ry="0.9" fill="#ddd" stroke="#333" stroke-width="0.5"/>
  <path d="M415.4,283.5 V288.7 C415.4,290.7 420.6,290.7 420.6,288.7 V283.5" class="lw" style="stroke-width:0.6"/>
  <ellipse cx="418.0" cy="283.5" rx="2.6" ry="1.6" class="lw" style="stroke-width:0.6"/>
  <ellipse cx="418.0" cy="283.5" rx="1.5" ry="0.9" fill="#ddd" stroke="#333" stroke-width="0.5"/>
  <!-- loose screw -->
  <ellipse cx="396.2" cy="255.3" rx="2.4" ry="1.7" fill="#888" stroke="#111" stroke-width="0.9"/>
  <path d="M395,257 V260.6 H397.4 V257" fill="#777" stroke="#111" stroke-width="0.7"/>
  <path d="M395,258.2 H397.4 M395,259.4H397.4" stroke="#222" stroke-width="0.4"/>
  <!-- L label -->
  <text x="362.9" y="280.3" font-size="8.4" font-weight="bold" font-style="italic" textLength="3.9" lengthAdjust="spacingAndGlyphs" style="fill:#111">L</text>
  <path d="M368.2,277.4 L385.2,283.8" stroke="#333" stroke-width="0.55" fill="none"/>
  <!-- N label -->
  <text x="424.9" y="312.3" font-size="7.6" font-weight="bold" font-style="italic" textLength="5.4" lengthAdjust="spacingAndGlyphs" style="fill:#111">N</text>
  <path d="M424,308.4 L403.6,303.4" stroke="#333" stroke-width="0.55" fill="none"/>
  <!-- arrow -->
  <path d="M399.2,309.8 L404.4,306.4" stroke="#111" stroke-width="1.2" fill="none"/>
  <path d="M406,305.2 L402.4,305.6 L404.2,308.4 Z" fill="#111"/>
  <!-- ground -->
  <path d="M393,297 V315" stroke="#333" stroke-width="0.55" fill="none"/>
  <circle cx="393" cy="315" r="3.2" fill="#fff" stroke="#222" stroke-width="0.9"/>
  <path d="M393,312.6 V315.2 M391,315.2 H395 M391.7,316.3 H394.3 M392.4,317.3 H393.6" stroke="#222" stroke-width="0.5" fill="none"/>
  <!-- detail circle -->
  <circle cx="362.6" cy="309.4" r="10.8" fill="#fff" stroke="#222" stroke-width="0.7"/>
  <rect x="352" y="307.2" width="4.8" height="4" rx="0.8" fill="#fff" stroke="#222" stroke-width="0.6"/>
  <path d="M356.8,309.2 H366" stroke="#222" stroke-width="0.9" fill="none"/>
  <path d="M366,309.2 C367.5,307.8 369.5,308 371.6,309.2 C369.5,310.4 367.5,310.6 366,309.2Z" fill="#bbb" stroke="#222" stroke-width="0.7"/>
  <circle cx="362.8" cy="316.2" r="3.3" fill="#111"/>
  <path d="M361,316.2 H364.6" stroke="#fff" stroke-width="0.9" fill="none"/>
  </g>
  <ellipse class="cb" cx="356.1" cy="250.4" rx="3.1" ry="3.45"/><text class="tb" x="356" y="252.8">3</text>
</g>
<!-- ===== PANEL 4 ===== -->
<g id="p4">
  <ellipse class="cb" cx="475.8" cy="250.4" rx="3.1" ry="3.45"/><text class="tb" x="475.7" y="252.8">4</text>
  <!-- plate + sockets -->
  <rect x="528.2" y="265" width="6.6" height="33.8" rx="1.2" fill="#fff" stroke="#555" stroke-width="0.55"/>
  
  <rect x="534.8" y="250.2" width="3.8" height="63.2" fill="#fff" stroke="#444" stroke-width="0.55"/>
  <path d="M533,250.3 H538.8 M533,313.4 H538.8" stroke="#333" stroke-width="0.8" fill="none"/>
  <rect x="526" y="278" width="12.2" height="8" rx="1.2" fill="#fff" stroke="#444" stroke-width="0.6"/>
  <!-- axis lines -->
  <path d="M508.6,259.2 L550.6,254.4 M508.6,311.6 L550.6,305.8" stroke="#555" stroke-width="0.5" fill="none" stroke-dasharray="3 1.4 60 0"/>
  <!-- screws -->
  <path d="M513.6,258.6 L521,257.8" stroke="#222" stroke-width="1.5" fill="none"/>
  <path d="M524.8,257.4 L527.2,257.1" stroke="#222" stroke-width="1.6" fill="none"/>
  <path d="M513.6,311 L521,310" stroke="#222" stroke-width="1.5" fill="none"/>
  <path d="M524.8,309.5 L527.2,309.2" stroke="#222" stroke-width="1.6" fill="none"/>
  <!-- anchors right -->
  <path d="M541,255.5 L549.6,254.5" stroke="#333" stroke-width="1.9" fill="none"/>
  <path d="M542.6,254.4 L542.8,256.4 M544.6,254.1 L544.8,256.1 M546.6,253.9 L546.8,255.9" stroke="#ccc" stroke-width="0.5" fill="none"/>
  <circle cx="550.4" cy="254.4" r="0.9" fill="#222"/>
  <path d="M541,307.1 L549.6,306" stroke="#333" stroke-width="1.9" fill="none"/>
  <path d="M542.6,306 L542.8,308 M544.6,305.7 L544.8,307.7 M546.6,305.5 L546.8,307.5" stroke="#ccc" stroke-width="0.5" fill="none"/>
  <circle cx="550.4" cy="305.9" r="0.9" fill="#222"/>
  <path d="M504.8,255.4 V264.8" fill="none" stroke="#444" stroke-width="0.55"/>
  <path d="M508.2,258.4 C506.3,257 501.0,257.4 501.0,260 C501.0,262.8 507.2,263 508.40000000000003,261.2" fill="none" stroke="#444" stroke-width="0.55"/>
  <path d="M509.2,259.8 L507.0,261 L509.0,262.4Z" fill="#333"/>
  <path d="M504.8,307.79999999999995 V317.2" fill="none" stroke="#444" stroke-width="0.55"/>
  <path d="M508.2,310.79999999999995 C506.3,309.4 501.0,309.79999999999995 501.0,312.4 C501.0,315.2 507.2,315.4 508.40000000000003,313.59999999999997" fill="none" stroke="#444" stroke-width="0.55"/>
  <path d="M509.2,312.2 L507.0,313.4 L509.0,314.79999999999995Z" fill="#333"/>
  <!-- wire squiggle -->
  <path d="M539.6,282 L545.2,281.8 L548.8,278.6 L551.4,278.6 L553.8,281.6" stroke="#444" stroke-width="1.7" fill="none" stroke-linejoin="round"/>
  <path d="M539.6,282 L545.2,281.8 L548.8,278.6 L551.4,278.6 L553.6,281.4" stroke="#eee" stroke-width="0.6" fill="none" stroke-linejoin="round"/>
  <path d="M553,281 L554.6,282.6" stroke="#333" stroke-width="1.6" fill="none"/>
  <!-- detail circle with screwdriver -->
  <circle cx="481" cy="310" r="11" fill="none" stroke="#222" stroke-width="0.7"/>
  <path d="M470.8,307.6 H476 L477.4,308.6 V310.8 L476,311.8 H470.8 Z" fill="#fff" stroke="#222" stroke-width="0.6"/>
  <path d="M477.4,309 H487.6 L490.6,309.7 L487.6,310.4 H477.4 Z" fill="#fff" stroke="#222" stroke-width="0.55"/>
  <path d="M487.6,309 L490.8,309.7 L487.6,310.4Z" fill="#222"/>
  <circle cx="481.9" cy="316.5" r="3.3" fill="#111"/>
  <path d="M480.1,316.5 H483.7 M481.9,314.7 V318.3" stroke="#fff" stroke-width="0.8" fill="none"/>
</g>
<!-- ===== PANEL 5 ===== -->
<g id="p5">
  <ellipse class="cb" cx="356.6" cy="331.4" rx="3.1" ry="3.45"/><text class="tb" x="356.5" y="333.8">5</text>
  <!-- bulb -->
  <path d="M408.7,342 C405.2,344.4 402.3,351 402.3,357 C402.3,361 404.4,364.8 405.8,366.5 H411.9 C413.3,364.8 415.1,361 415.1,357 C415.1,351 412.2,344.4 408.7,342 Z" fill="#fff" stroke="#333" stroke-width="0.65"/>
  <rect x="405.8" y="366.5" width="6.1" height="3.4" fill="#fff" stroke="#444" stroke-width="0.55"/>
  <path d="M406.2,369.9 H411.5 V373.6 L410.2,375.6 H407.5 L406.2,373.6 Z" fill="#777" stroke="#333" stroke-width="0.5"/>
  <path d="M406.2,371.2 H411.5 M406.2,372.5H411.5 M406.6,373.8H411.1" stroke="#222" stroke-width="0.5" fill="none"/>
  <!-- socket -->
  <path d="M403.5,402 V381.2 C403.5,380.6 403.9,380.3 404.5,380.3 H413.2 C413.8,380.3 414.2,380.6 414.2,381.2 V402" fill="#fff" stroke="#555" stroke-width="0.6"/>
  <!-- rotation symbol -->
  <path d="M430.5,351.2 V366" fill="none" stroke="#444" stroke-width="0.6"/>
  <path d="M425.6,358.8 C428.6,357.6 434.6,357.6 437.6,359.2 M425.6,359.6 H434" fill="none" stroke="#444" stroke-width="0.55"/>
  <path d="M423.2,359.1 L426.8,357.4 L426.8,360.8Z M438.2,360.2 L436,359.4 L437.6,358Z" fill="#222"/>
  <path d="M430.5,367.8 L429.5,365.2 H431.5Z" fill="#222"/>
  <!-- LED lamp -->
  <circle cx="363.8" cy="390.4" r="11.1" fill="#fff" stroke="#222" stroke-width="0.7"/>
  <text x="357.9" y="389.7" font-size="6.6" font-weight="bold" textLength="8.5" lengthAdjust="spacingAndGlyphs" style="fill:#111;stroke:#111;stroke-width:0.3">LED</text>
  <text x="355.8" y="395.7" font-size="6.4" font-weight="bold" textLength="12.2" lengthAdjust="spacingAndGlyphs" style="fill:#111;stroke:#111;stroke-width:0.3">Lamp</text>
  <!-- label outside -->
  <ellipse class="cb" cx="525.8" cy="361.9" rx="3.15" ry="3.6"/><text class="tb" x="525.7" y="364.3">6</text>
</g>
<!-- ===== PANEL 7 ===== -->
<g id="p7">
  <ellipse class="cb" cx="356.3" cy="413" rx="3.1" ry="3.45"/><text class="tb" x="356.2" y="415.4">7</text>
  <!-- rotation symbol -->
  <path d="M419,409.6 V418.4" fill="none" stroke="#444" stroke-width="0.6"/>
  <path d="M419,418.4 V424" fill="none" stroke="#444" stroke-width="0.6" stroke-dasharray="1.4 0.8"/>
  <path d="M414,417 C417,415.8 423,415.8 426.6,417.6 M414,417.8 H422" fill="none" stroke="#444" stroke-width="0.55"/>
  <path d="M411.6,417.3 L415.2,415.6 L415.2,419Z M427.2,418.6 L425,417.8 L426.6,416.4Z" fill="#222"/>
  <path d="M419,426 L418,423.4 H420Z" fill="#222"/>
  <!-- nut -->
  <rect x="409.3" y="429" width="5.3" height="2.7" fill="#eee" stroke="#333" stroke-width="0.6"/>
  <!-- cap -->
  <rect x="405.3" y="434" width="13" height="3.3" fill="#fff" stroke="#333" stroke-width="0.6"/>
  <rect x="401.3" y="437.3" width="18.7" height="4" fill="#fff" stroke="#333" stroke-width="0.6"/>
  <path d="M397,445 V443.6 L401.3,441.3 H420.2 V445 Z" fill="#fff" stroke="#333" stroke-width="0.6"/>
  <path d="M397.4,443.4 H420.2" stroke="#777" stroke-width="0.5" fill="none"/>
  <!-- arrow down -->
  <path d="M392.6,448.6 L395.4,445 H393.6 V440 H391.6 V445 H389.8 Z" fill="#111"/>
  <!-- rod -->
  <rect x="410.7" y="449.3" width="3" height="13" fill="#ccc" stroke="#555" stroke-width="0.5"/>
  <path d="M410.7,450.4H413.7 M410.7,451.7H413.7 M410.7,453.0H413.7 M410.7,454.3H413.7 M410.7,455.6H413.7 M410.7,456.9H413.7 M410.7,458.2H413.7 M410.7,459.5H413.7 M410.7,460.8H413.7" stroke="#555" stroke-width="0.45" fill="none"/>
  <!-- body -->
  <rect x="398.7" y="462.4" width="22.6" height="21.2" fill="#fff" stroke="#333" stroke-width="0.6"/>
  <rect x="410.2" y="462.4" width="3.6" height="21.2" fill="#ccc" stroke="none"/>
  <path d="M399.6,463V483.6 M401.7,463V483.6 M405,463V483.6 M407,463V483.6 M417.7,463V483.6 M420,463V483.6" stroke="#555" stroke-width="0.5" fill="none"/>
  <path d="M410.2,462V483.6 M411.9,462V483.6 M413.8,462V483.6" stroke="#222" stroke-width="0.7" fill="none"/>
  <path d="M398.4,462.5 H421.6" stroke="#222" stroke-width="1" fill="none"/>
</g>

<text x="286.6" y="505.8" font-size="15.6" textLength="20.8" lengthAdjust="spacingAndGlyphs" fill="#222" stroke="#222" stroke-width="0.25">2/2</text>
</svg>
</body>
</html>
